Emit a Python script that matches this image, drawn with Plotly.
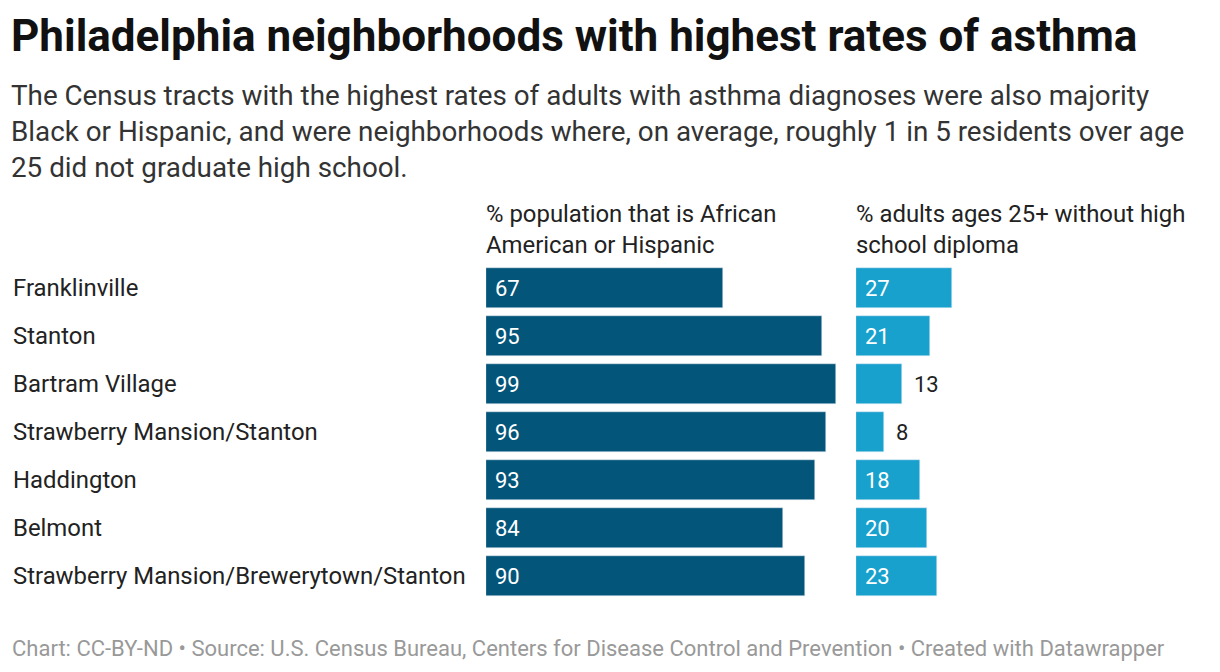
import plotly.graph_objects as go

neighborhoods = ["Franklinville", "Stanton", "Bartram Village", "Strawberry Mansion/Stanton",
                 "Haddington", "Belmont", "Strawberry Mansion/Brewerytown/Stanton"]
pct_black_hispanic = [67, 95, 99, 96, 93, 84, 90]
pct_no_diploma = [27, 21, 13, 8, 18, 20, 23]

W, H = 1220, 672
OFF = 8
def px(x): return (x - OFF) / W
def py(y): return 1 - (y - OFF) / H

fig = go.Figure()
ys = list(range(len(neighborhoods)))
fig.add_bar(x=pct_black_hispanic, y=ys, orientation="h", marker_color="#03557a", width=0.83,
            xaxis="x", yaxis="y", hoverinfo="skip")
fig.add_bar(x=pct_no_diploma, y=ys, orientation="h", marker_color="#18a1cd", width=0.83,
            xaxis="x2", yaxis="y2", hoverinfo="skip")

ydom = [py(600), py(264)]
ax = dict(range=[0, 100], visible=False, fixedrange=True)
yax = dict(range=[6.5, -0.5], visible=False, fixedrange=True, domain=ydom)
fig.update_layout(
    width=W, height=H, margin=dict(l=0, r=0, t=0, b=0), showlegend=False,
    plot_bgcolor="white", paper_bgcolor="white", bargap=0,
    xaxis=dict(ax, domain=[px(486), px(840)], anchor="y"),
    xaxis2=dict(ax, domain=[px(856), px(1210)], anchor="y2"),
    yaxis=dict(yax, anchor="x"), yaxis2=dict(yax, anchor="x2"),
    font=dict(family="Roboto", color="#222"),
)
ann = []
for i, v in enumerate(pct_black_hispanic):
    ann.append(dict(x=0, y=i, xref="x", yref="y", text=str(v), showarrow=False, xanchor="left",
                    xshift=7, font=dict(size=22, color="white")))
for i, v in enumerate(pct_no_diploma):
    inside = v >= 15
    ann.append(dict(x=0 if inside else v, y=i, xref="x2", yref="y2", text=str(v), showarrow=False,
                    xanchor="left", xshift=7 if inside else 10,
                    font=dict(size=22, color="white" if inside else "#222")))
for i, n in enumerate(neighborhoods):
    ann.append(dict(x=px(11), y=py(288 + 48 * i), xref="paper", yref="paper", text=n, showarrow=False,
                    xanchor="left", yanchor="middle", font=dict(size=23.9, color="#222")))
extra = [
    dict(x=px(9), y=py(36), text="<b>Philadelphia neighborhoods with highest rates of asthma</b>",
         font=dict(size=44, color="#111")),
    dict(x=px(9), y=py(131), text="The Census tracts with the highest rates of adults with asthma diagnoses were also majority<br>Black or Hispanic, and were neighborhoods where, on average, roughly 1 in 5 residents over age<br>25 did not graduate high school.",
         font=dict(size=27.8, color="#333")),
    dict(x=px(484), y=py(229), text="% population that is African<br>American or Hispanic", font=dict(size=23.9, color="#222")),
    dict(x=px(854), y=py(229), text="% adults ages 25+ without high<br>school diploma", font=dict(size=23.9, color="#222")),
    dict(x=px(10), y=py(648), text="Chart: CC-BY-ND • Source: U.S. Census Bureau, Centers for Disease Control and Prevention • Created with Datawrapper",
         font=dict(size=22, color="#999")),
]
for a in extra:
    a.update(xref="paper", yref="paper", showarrow=False, xanchor="left", yanchor="middle", align="left")
fig.update_layout(annotations=ann + extra)
fig.write_html("out.html")
